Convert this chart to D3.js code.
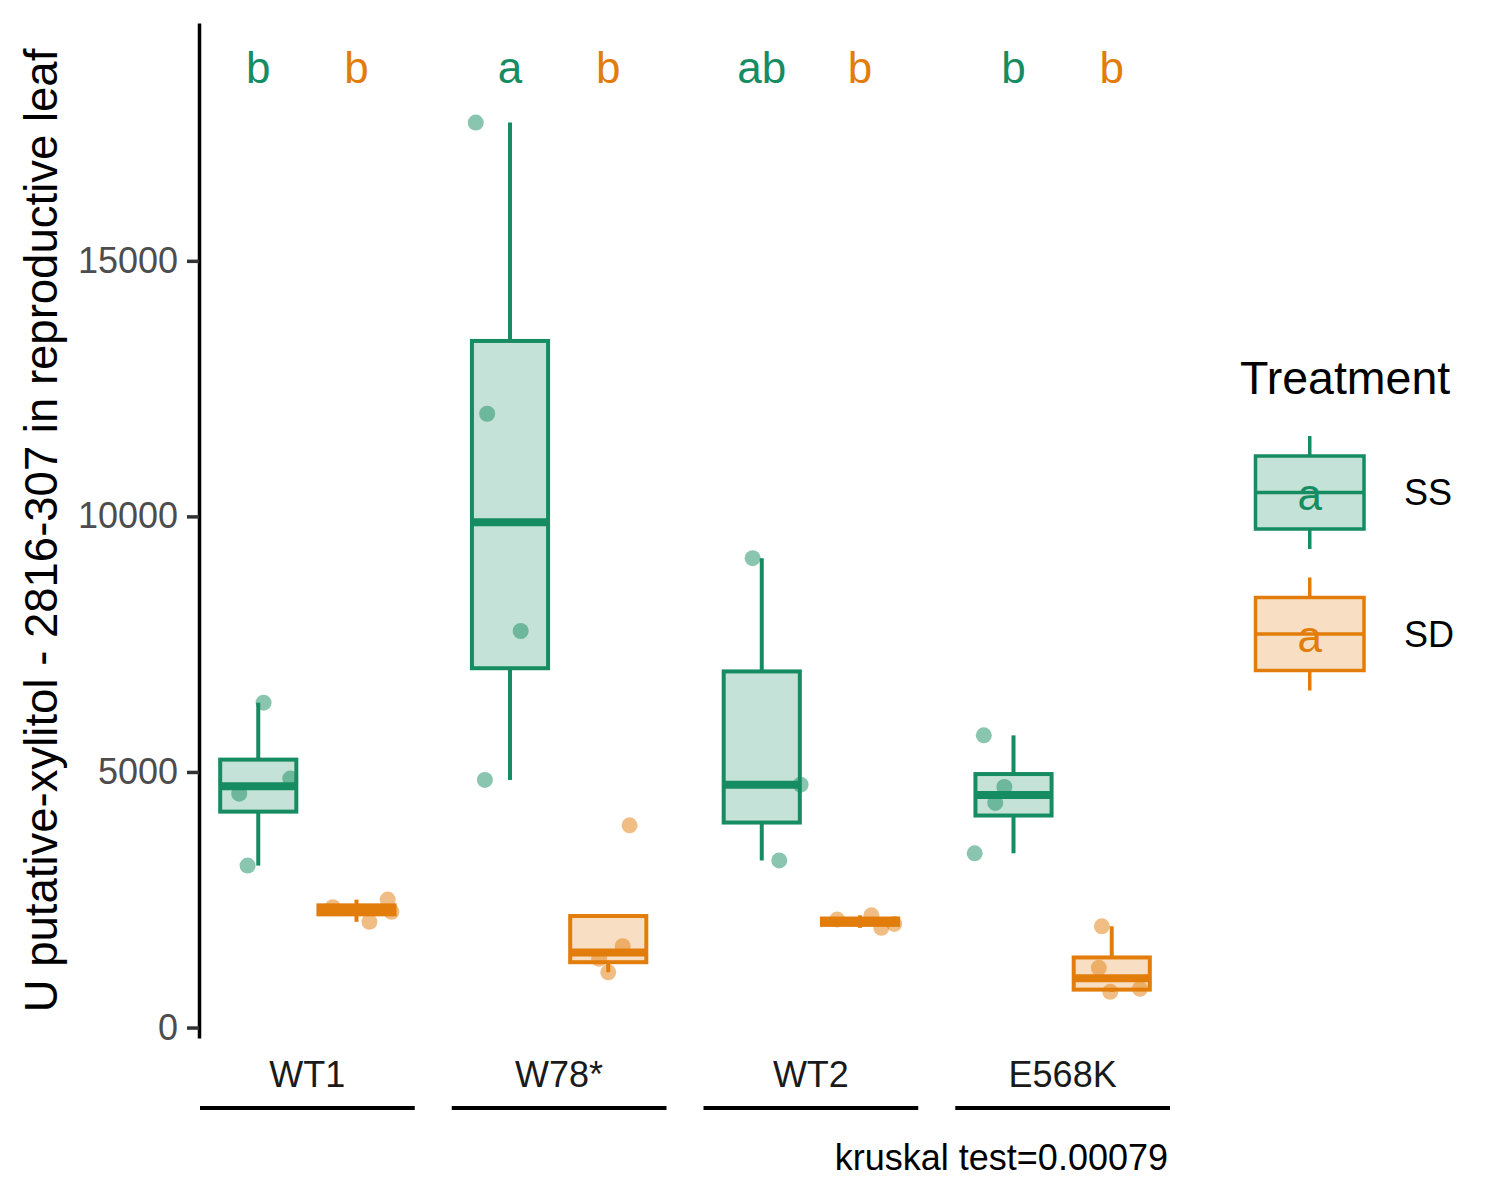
<!DOCTYPE html>
<html>
<head>
<meta charset="utf-8">
<script src="https://cdn.jsdelivr.net/npm/d3@7"></script>
<style>
  html, body { margin: 0; padding: 0; background: #ffffff; }
  svg { display: block; }
  text { font-family: "Liberation Sans", Arial, Helvetica, sans-serif; }
</style>
</head>
<body>
<svg id="chart" width="1500" height="1200"></svg>
<script>
// ---------------- data ----------------
const groups = ["WT1", "W78*", "WT2", "E568K"];
const treatments = ["SS", "SD"];
// values per group
const ssValues = [
  [6356, 4576, 4870, 3168],
  [17705, 12008, 7758, 4844],
  [9182, 4752, 3269],
  [5716, 3409, 4707, 4394]
];
const sdValues = [
  [2353, 2503, 2263, 2068],
  [3956, 1590, 1344, 1081],
  [2112, 2196, 1950, 2028],
  [1981, 1168, 698, 757]
];
// jitter offsets as fraction of box width
const ssJitter = [
  [0.07, -0.25, 0.42, -0.14],
  [-0.45, -0.30, 0.14, -0.33],
  [-0.12, 0.51, 0.23],
  [-0.39, -0.51, -0.12, -0.24]
];
const sdJitter = [
  [-0.31, 0.41, 0.46, 0.17],
  [0.28, 0.19, -0.12, 0.00],
  [-0.30, 0.15, 0.28, 0.45],
  [-0.13, -0.17, -0.02, 0.37]
];
const ssLetters = ["b", "a", "ab", "b"];
const sdLetters = ["b", "b", "b", "b"];
const letterY = 18750;
const yTicks = [0, 5000, 10000, 15000];
const yTitle = "U putative-xylitol - 2816-307 in reproductive leaf";
const legendTitle = "Treatment";
const testLabel = "kruskal test=0.00079";

// ---------------- styles ----------------
const strokeCol = { SS: "#168C62", SD: "#E27D0C" };
const fillAlpha = 0.25, pointAlpha = 0.5;
const FONT = '"Liberation Sans", Arial, Helvetica, sans-serif';

const svg = d3.select("#chart");

// ---------------- scales ----------------
const allVals = ssValues.flat().concat(sdValues.flat());
const dmin = d3.min(allVals), dmax = letterY;
const span = dmax - dmin;
const y = d3.scaleLinear()
  .domain([dmin - 0.05 * span, dmax + 0.05 * span])
  .range([1038, 23]);

const xGroup = d3.scaleBand().domain(groups).range([200, 1170]).paddingInner(0.147).paddingOuter(0);
const xTreat = d3.scalePoint().domain(treatments).range([0, xGroup.bandwidth()]).padding(0.593);
const boxW = 0.775 * xTreat.step();

// ---------------- y axis ----------------
const yAxis = svg.append("g")
  .attr("transform", "translate(199,0)")
  .call(d3.axisLeft(y).tickValues(yTicks).tickFormat(d3.format("d")).tickSize(12).tickSizeOuter(0).tickPadding(9));
yAxis.select(".domain").attr("stroke", "#000").attr("stroke-width", 3.5);
yAxis.selectAll(".tick line").attr("stroke", "#333").attr("stroke-width", 3.5);
yAxis.selectAll(".tick text").attr("fill", "#4D4D4D").style("font-size", "36px").style("font-family", FONT);

svg.append("text")
  .attr("transform", `translate(57,${(y.range()[0] + y.range()[1]) / 2}) rotate(-90)`)
  .attr("text-anchor", "middle")
  .style("font-size", "45.5px")
  .attr("fill", "#000")
  .text(yTitle);

// ---------------- boxes ----------------
function stats(vals) {
  const s = vals.slice().sort(d3.ascending);
  const q1 = d3.quantile(s, 0.25), med = d3.quantile(s, 0.5), q3 = d3.quantile(s, 0.75);
  const iqr = q3 - q1;
  const lo = d3.min(s.filter(v => v >= q1 - 1.5 * iqr));
  const hi = d3.max(s.filter(v => v <= q3 + 1.5 * iqr));
  return { q1, med, q3, lo: Math.min(lo, q1), hi: Math.max(hi, q3) };
}

const series = { SS: { vals: ssValues, jit: ssJitter, letters: ssLetters },
                 SD: { vals: sdValues, jit: sdJitter, letters: sdLetters } };

const plot = svg.append("g");
groups.forEach((g, gi) => {
  treatments.forEach(t => {
    const cx = xGroup(g) + xTreat(t);
    const vals = series[t].vals[gi];
    const st = stats(vals);
    const col = strokeCol[t];
    const gg = plot.append("g");
    // whiskers
    gg.append("line").attr("x1", cx).attr("x2", cx).attr("y1", y(st.q3)).attr("y2", y(st.hi))
      .attr("stroke", col).attr("stroke-width", 4);
    gg.append("line").attr("x1", cx).attr("x2", cx).attr("y1", y(st.q1)).attr("y2", y(st.lo))
      .attr("stroke", col).attr("stroke-width", 4);
    // box
    gg.append("rect").attr("x", cx - boxW / 2).attr("width", boxW)
      .attr("y", y(st.q3)).attr("height", y(st.q1) - y(st.q3))
      .attr("fill", col).attr("fill-opacity", fillAlpha)
      .attr("stroke", col).attr("stroke-width", 4).attr("stroke-linejoin", "miter");
    // median
    gg.append("line").attr("x1", cx - boxW / 2).attr("x2", cx + boxW / 2)
      .attr("y1", y(st.med)).attr("y2", y(st.med))
      .attr("stroke", col).attr("stroke-width", 8);
    // points
    vals.forEach((v, i) => {
      gg.append("circle").attr("cx", cx + series[t].jit[gi][i] * boxW).attr("cy", y(v)).attr("r", 8)
        .attr("fill", col).attr("fill-opacity", pointAlpha);
    });
    // letters
    svg.append("text").attr("x", cx).attr("y", y(letterY)).attr("dy", "0.32em")
      .attr("text-anchor", "middle").style("font-size", "44px").attr("fill", col)
      .text(series[t].letters[gi]);
  });
  // group label + underline (facet strip at bottom)
  svg.append("text").attr("x", xGroup(g) + xGroup.bandwidth() / 2).attr("y", 1087)
    .attr("text-anchor", "middle").style("font-size", "36px").attr("fill", "#1A1A1A").text(g);
  svg.append("line").attr("x1", xGroup(g)).attr("x2", xGroup(g) + xGroup.bandwidth())
    .attr("y1", 1108).attr("y2", 1108).attr("stroke", "#000").attr("stroke-width", 4);
});

// ---------------- caption ----------------
svg.append("text").attr("x", 1168).attr("y", 1170).attr("text-anchor", "end")
  .style("font-size", "36px").attr("fill", "#000").text(testLabel);

// ---------------- legend ----------------
svg.append("text").attr("x", 1240).attr("y", 394).style("font-size", "46.5px").attr("fill", "#000").text(legendTitle);
const keyTops = { SS: 456, SD: 597.5 };
treatments.forEach(t => {
  const col = strokeCol[t];
  const top = keyTops[t], h = 73, x0 = 1255.5, w = 108.5, cx = x0 + w / 2;
  const k = svg.append("g");
  k.append("line").attr("x1", cx).attr("x2", cx).attr("y1", top - 20).attr("y2", top).attr("stroke", col).attr("stroke-width", 3.5);
  k.append("line").attr("x1", cx).attr("x2", cx).attr("y1", top + h).attr("y2", top + h + 20).attr("stroke", col).attr("stroke-width", 3.5);
  k.append("rect").attr("x", x0).attr("y", top).attr("width", w).attr("height", h)
    .attr("fill", col).attr("fill-opacity", fillAlpha).attr("stroke", col).attr("stroke-width", 3.5);
  k.append("line").attr("x1", x0).attr("x2", x0 + w).attr("y1", top + h / 2).attr("y2", top + h / 2)
    .attr("stroke", col).attr("stroke-width", 3.5);
  k.append("text").attr("x", cx).attr("y", top + h / 2).attr("dy", "0.4em").attr("text-anchor", "middle")
    .style("font-size", "44px").attr("fill", col).text("a");
  svg.append("text").attr("x", 1404).attr("y", top + h / 2).attr("dy", "0.35em")
    .style("font-size", "36px").attr("fill", "#000").text(t);
});
</script>
</body>
</html>
